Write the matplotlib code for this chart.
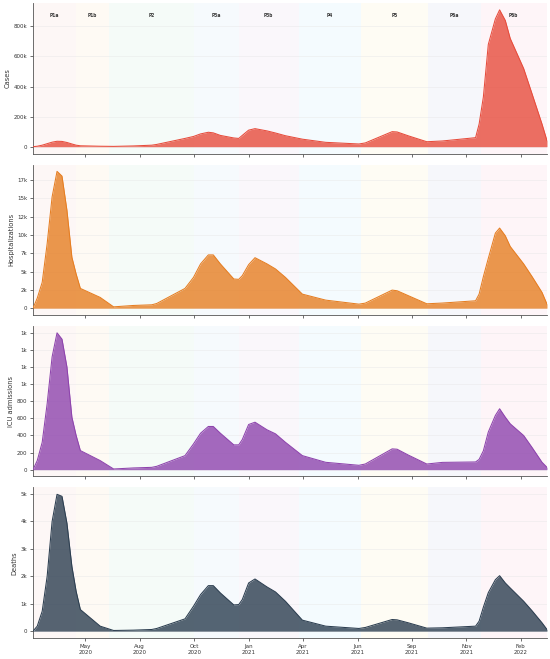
import numpy as np
import pandas as pd
import matplotlib
matplotlib.use("Agg")
import matplotlib.pyplot as plt
import matplotlib.dates as mdates
from matplotlib.ticker import FuncFormatter, MultipleLocator, FixedLocator
from matplotlib.transforms import blended_transform_factory

# sample dates
dates = pd.to_datetime([
    "2020-03-17", "2020-03-23", "2020-03-30", "2020-04-06", "2020-04-13",
    "2020-04-20", "2020-04-27", "2020-05-04", "2020-05-11", "2020-05-17",
    "2020-05-23", "2020-06-20", "2020-07-09", "2020-08-06", "2020-09-01",
    "2020-09-08", "2020-10-18", "2020-10-30", "2020-11-09", "2020-11-20",
    "2020-11-27", "2020-12-07", "2020-12-26", "2021-01-02", "2021-01-07",
    "2021-01-16", "2021-01-25", "2021-02-11", "2021-02-23", "2021-03-09",
    "2021-04-02", "2021-05-05", "2021-06-21", "2021-06-30", "2021-08-07",
    "2021-08-14", "2021-08-30", "2021-09-25", "2021-10-17", "2021-12-03",
    "2021-12-08", "2021-12-14", "2021-12-21", "2021-12-31", "2022-01-06",
    "2022-01-14", "2022-01-21", "2022-02-09", "2022-02-21", "2022-03-07",
    "2022-03-14",
])

cases = [
    0, 3000, 10000, 20000, 30000,
    36000, 35000, 28000, 18000, 10000,
    6000, 3000, 2000, 5000, 10000,
    15000, 55000, 68000, 85000, 96000,
    92000, 75000, 58000, 55000, 75000,
    110000, 120000, 105000, 91000, 73000,
    50000, 29000, 18000, 25000, 100000,
    98000, 72000, 33000, 38000, 60000,
    150000, 330000, 680000, 850000, 910000,
    840000, 720000, 520000, 350000, 150000,
    40000,
]

hospitalizations = [
    0, 1370, 3530, 8800, 15200,
    18700, 18050, 13370, 6960, 4670,
    2700, 1470, 180, 370, 460,
    640, 2700, 4210, 6050, 7280,
    7280, 6050, 3990, 3940, 4440,
    5950, 6900, 6050, 5360, 4210,
    1920, 1100, 550, 690, 2470,
    2380, 1700, 600, 700, 1010,
    1920, 4300, 6800, 10260, 10950,
    9900, 8430, 6050, 4300, 2150,
    550,
]

icu_admissions = [
    0, 106, 320, 770, 1318,
    1600, 1526, 1200, 614, 400,
    223, 106, 8, 20, 27,
    39, 164, 301, 426, 505,
    505, 426, 290, 290, 352,
    528, 555, 466, 419, 320,
    164, 86, 51, 66, 243,
    239, 170, 66, 85, 90,
    120, 220, 440, 634, 712,
    614, 536, 399, 258, 86,
    27,
]

deaths = [
    0, 181, 725, 1993, 3986,
    4977, 4904, 3926, 2355, 1450,
    785, 181, 24, 36, 60,
    97, 447, 906, 1329, 1655,
    1655, 1389, 954, 966, 1148,
    1752, 1897, 1607, 1425, 1087,
    400, 181, 97, 133, 423,
    411, 302, 109, 121, 181,
    362, 870, 1400, 1872, 2017,
    1752, 1570, 1087, 737, 302,
    60,
]

# epidemic periods
period_names = ["P1a", "P1b", "P2", "P3a", "P3b", "P4", "P5", "P6a", "P6b"]
period_starts = ["2020-03-17", "2020-05-17", "2020-07-02", "2020-10-31", "2021-01-02",
                 "2021-03-28", "2021-06-24", "2021-09-27", "2021-12-10"]
period_ends = ["2020-05-17", "2020-07-02", "2020-10-31", "2021-01-02", "2021-03-28",
               "2021-06-24", "2021-09-27", "2021-12-10", "2022-03-14"]
period_colors = ["#e74c3c", "#f39c12", "#27ae60", "#3498db", "#9b59b6",
                 "#03a9f4", "#f1c40f", "#3f51b5", "#e91e63"]

tick_dates = ["2020-05-30", "2020-08-15", "2020-10-31", "2021-01-16", "2021-04-03",
              "2021-06-19", "2021-09-04", "2021-11-20", "2022-02-05"]

series = [
    ("Cases", cases, "#e74c3c", 200000),
    ("Hospitalizations", hospitalizations, "#e67e22", 2500),
    ("ICU admissions", icu_admissions, "#8e44ad", 200),
    ("Deaths", deaths, "#2c3e50", 1000),
]


def kfmt(v, pos):
    if abs(v) >= 1000:
        return "{}k".format(int(v / 1000))
    return "{}".format(int(v))


fig, axes = plt.subplots(4, 1, figsize=(11, 13.18), dpi=50, sharex=True)
fig.subplots_adjust(left=0.06, right=0.9945, top=0.9954, bottom=0.0319, hspace=0.073)

starts = pd.to_datetime(period_starts)
ends = pd.to_datetime(period_ends)

for ax, (name, vals, color, step) in zip(axes, series):
    for s, e, pc in zip(starts, ends, period_colors):
        ax.axvspan(s, e, color=pc, alpha=0.045, lw=0, zorder=0)
    ax.fill_between(dates, vals, color=color, alpha=0.8, lw=0, zorder=2)
    ax.plot(dates, vals, color=color, lw=1.5, zorder=3)
    ax.set_ylabel(name, fontsize=9.5, color="#333333")
    ax.yaxis.set_major_locator(MultipleLocator(step))
    ax.yaxis.set_major_formatter(FuncFormatter(kfmt))
    ax.grid(axis="y", color="#e6e6e6", lw=1.0, alpha=0.6, zorder=1)
    ax.set_axisbelow(True)
    for sp in ("top", "right"):
        ax.spines[sp].set_visible(False)
    for sp in ("left", "bottom"):
        ax.spines[sp].set_color("#555555")
        ax.spines[sp].set_linewidth(1.2)
    ax.tick_params(axis="both", labelsize=8, colors="#555555", labelcolor="#333333",
                   length=5, width=1.2, direction="out")
    ax.margins(x=0)

axes[0].set_xlim(pd.Timestamp("2020-03-17"), pd.Timestamp("2022-03-14"))
axes[-1].xaxis.set_major_locator(FixedLocator(mdates.date2num(pd.to_datetime(tick_dates))))
axes[-1].xaxis.set_major_formatter(mdates.DateFormatter("%b\n%Y"))

trans = blended_transform_factory(axes[0].transData, axes[0].transAxes)
for name, s, e in zip(period_names, starts, ends):
    mid = s + (e - s) / 2
    axes[0].text(mid, 0.915, name, transform=trans, ha="center", va="center",
                 fontsize=7.5, fontweight="bold", family="DejaVu Sans Mono", color="#333333")

fig.savefig("out.png", dpi=50)
